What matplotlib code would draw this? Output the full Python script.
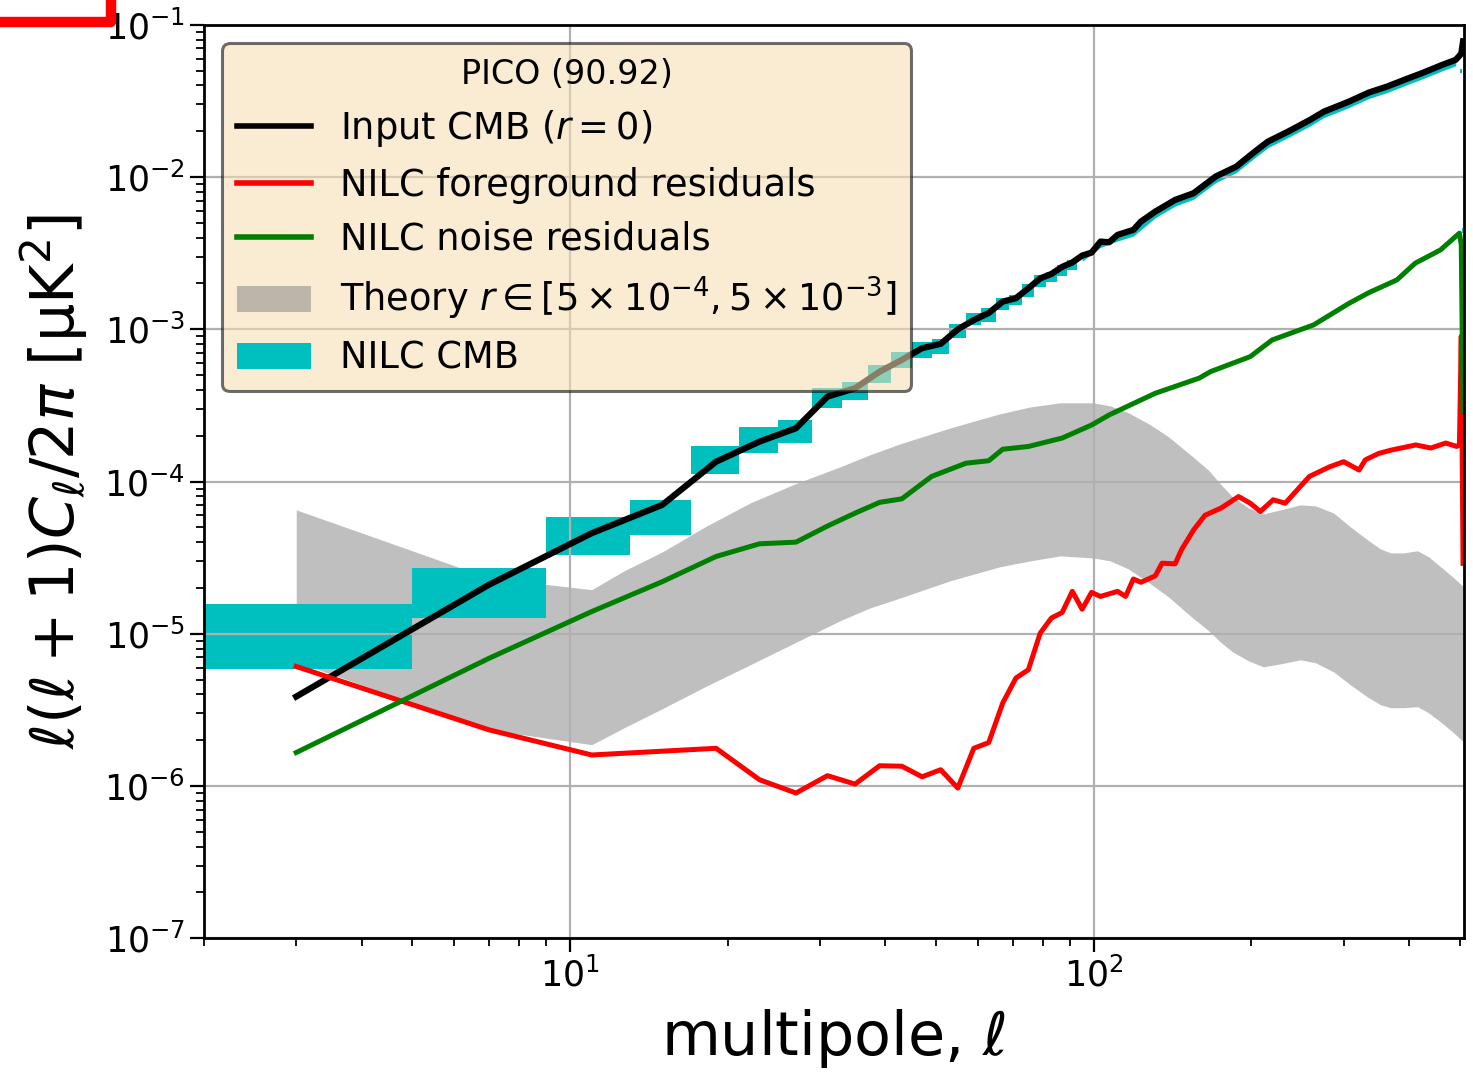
import numpy as np
import matplotlib
matplotlib.use("Agg")
import matplotlib.pyplot as plt
from matplotlib.lines import Line2D
from matplotlib.patches import Patch

# ---- data (bins of width 4 in multipole) ----
# NILC CMB boxes: bin centre, lower and upper edge
cmb_ell = [3, 7, 11, 15, 19, 23, 27, 31, 35, 39, 43, 47, 51, 55, 59, 63, 67,
           71, 75, 79, 83, 87, 91, 503, 507]
cmb_lo = [5.86e-6, 1.27e-5, 3.27e-5, 4.47e-5, 1.12e-4, 1.54e-4, 1.80e-4,
          3.03e-4, 3.44e-4, 4.47e-4, 5.56e-4, 6.46e-4, 6.87e-4, 8.74e-4,
          1.07e-3, 1.11e-3, 1.34e-3, 1.45e-3, 1.64e-3, 1.89e-3, 2.03e-3,
          2.24e-3, 2.45e-3, 4.85e-2, 4.30e-3]
cmb_hi = [1.57e-5, 2.70e-5, 5.84e-5, 7.58e-5, 1.71e-4, 2.27e-4, 2.54e-4,
          4.10e-4, 4.54e-4, 5.83e-4, 7.14e-4, 8.30e-4, 8.61e-4, 1.08e-3,
          1.28e-3, 1.38e-3, 1.60e-3, 1.68e-3, 1.99e-3, 2.26e-3, 2.39e-3,
          2.65e-3, 2.85e-3, 5.10e-2, 4.60e-3]
# thin NILC CMB boxes at high multipole (seen as a fringe under the black line)
cmb_ell_hi = [95, 103, 111, 119, 131, 143, 155, 171, 187, 203, 215, 235, 259,
              275, 307, 335, 363, 399, 423, 463, 491]
cmb_lo_hi = [2.80e-3, 3.45e-3, 3.80e-3, 4.10e-3, 5.40e-3, 6.45e-3, 7.15e-3,
             9.20e-3, 1.07e-2, 1.34e-2, 1.56e-2, 1.82e-2, 2.17e-2, 2.46e-2,
             2.86e-2, 3.28e-2, 3.59e-2, 4.08e-2, 4.40e-2, 4.99e-2, 5.39e-2]
cmb_up_hi = [3.05e-3, 3.77e-3, 4.17e-3, 4.50e-3, 5.93e-3, 7.08e-3, 7.83e-3,
             1.01e-2, 1.17e-2, 1.47e-2, 1.71e-2, 1.99e-2, 2.38e-2, 2.69e-2,
             3.13e-2, 3.59e-2, 3.93e-2, 4.46e-2, 4.81e-2, 5.46e-2, 5.89e-2]

# Input CMB (r = 0)
inp_ell = [3, 7, 11, 15, 19, 23, 27, 31, 35, 39, 43, 47, 51, 55, 59, 63, 67,
           71, 75, 79, 83, 87, 91, 95, 99, 103, 107, 111, 119, 123, 131, 143,
           155, 171, 187, 203, 215, 235, 259, 275, 307, 335, 363, 399, 423,
           463, 491, 503, 507]
inp_cl = [3.87e-6, 2.10e-5, 4.58e-5, 7.03e-5, 1.35e-4, 1.83e-4, 2.24e-4,
          3.61e-4, 4.10e-4, 5.27e-4, 6.30e-4, 7.52e-4, 8.02e-4, 1.00e-3,
          1.15e-3, 1.28e-3, 1.52e-3, 1.60e-3, 1.86e-3, 2.16e-3, 2.31e-3,
          2.57e-3, 2.75e-3, 3.05e-3, 3.19e-3, 3.77e-3, 3.73e-3, 4.17e-3,
          4.50e-3, 5.10e-3, 5.93e-3, 7.08e-3, 7.83e-3, 1.01e-2, 1.17e-2,
          1.47e-2, 1.71e-2, 1.99e-2, 2.38e-2, 2.69e-2, 3.13e-2, 3.59e-2,
          3.93e-2, 4.46e-2, 4.81e-2, 5.46e-2, 5.89e-2, 6.46e-2, 7.78e-2]

# NILC foreground residuals
fg_ell = [3, 7, 11, 19, 23, 27, 31, 35, 39, 43, 47, 51, 55, 59, 63, 67, 71,
          75, 79, 83, 87, 91, 95, 99, 103, 111, 115, 119, 123, 131, 135, 143,
          147, 155, 163, 175, 189, 199, 208, 220, 232, 258, 282, 300, 321,
          330, 350, 370, 412, 440, 470, 493, 499, 503, 507]
fg_cl = [6.1e-6, 2.34e-6, 1.60e-6, 1.77e-6, 1.10e-6, 9.0e-7, 1.17e-6, 1.03e-6,
         1.36e-6, 1.35e-6, 1.15e-6, 1.28e-6, 9.7e-7, 1.77e-6, 1.93e-6, 3.51e-6,
         5.12e-6, 5.81e-6, 1.01e-5, 1.27e-5, 1.38e-5, 1.90e-5, 1.45e-5, 1.87e-5,
         1.76e-5, 1.90e-5, 1.76e-5, 2.29e-5, 2.18e-5, 2.40e-5, 2.91e-5, 2.88e-5,
         3.56e-5, 4.8e-5, 6.0e-5, 6.7e-5, 7.97e-5, 7.2e-5, 6.36e-5, 7.59e-5,
         7.21e-5, 1.08e-4, 1.25e-4, 1.35e-4, 1.19e-4, 1.39e-4, 1.53e-4,
         1.61e-4, 1.74e-4, 1.66e-4, 1.79e-4, 1.70e-4, 1.75e-4, 9.0e-4, 2.9e-5]

# NILC noise residuals
nz_ell = [3, 7, 11, 15, 19, 23, 27, 31, 35, 39, 43, 49, 57, 63, 67, 75, 87,
          99, 107, 131, 159, 167, 199, 219, 263, 307, 335, 379, 411, 459, 499,
          503, 507]
nz_cl = [1.66e-6, 6.9e-6, 1.40e-5, 2.20e-5, 3.22e-5, 3.90e-5, 4.0e-5, 5.1e-5,
         6.2e-5, 7.3e-5, 7.7e-5, 1.08e-4, 1.32e-4, 1.37e-4, 1.63e-4, 1.70e-4,
         1.93e-4, 2.35e-4, 2.74e-4, 3.80e-4, 4.78e-4, 5.27e-4, 6.62e-4,
         8.51e-4, 1.07e-3, 1.48e-3, 1.74e-3, 2.11e-3, 2.72e-3, 3.32e-3,
         4.28e-3, 3.6e-3, 2.9e-4]

# theory band r in [5e-4, 5e-3]
th_ell = [3, 7, 11, 12.7, 15, 18.1, 22.1, 26.9, 32.8, 37.4, 42.7, 53.2, 66.3,
          75.6, 86.3, 99.8, 107.5, 116.4, 128.2, 138.8, 152.9, 165.5, 174.4,
          183.9, 197.3, 210.8, 227.2, 248, 265, 286.8, 309, 333.1, 352.7,
          368.6, 390.2, 415, 435.5, 459.2, 484.1, 507.9]
th_up = [6.52e-5, 2.33e-5, 1.95e-5, 2.60e-5, 3.45e-5, 5.04e-5, 7.25e-5,
         9.66e-5, 1.25e-4, 1.50e-4, 1.77e-4, 2.25e-4, 2.79e-4, 3.09e-4,
         3.29e-4, 3.29e-4, 3.14e-4, 2.83e-4, 2.36e-4, 1.97e-4, 1.50e-4,
         1.19e-4, 9.66e-5, 7.94e-5, 6.72e-5, 6.13e-5, 6.52e-5, 7.03e-5,
         6.92e-5, 6.22e-5, 5.04e-5, 4.14e-5, 3.61e-5, 3.40e-5, 3.40e-5,
         3.51e-5, 3.21e-5, 2.76e-5, 2.37e-5, 2.04e-5]
th_lo = [6.55e-6, 2.34e-6, 1.87e-6, 2.42e-6, 3.22e-6, 4.49e-6, 6.27e-6,
         8.74e-6, 1.22e-5, 1.48e-5, 1.72e-5, 2.23e-5, 2.76e-5, 3.01e-5,
         3.25e-5, 3.15e-5, 3.01e-5, 2.67e-5, 2.13e-5, 1.75e-5, 1.31e-5,
         1.05e-5, 8.85e-6, 7.62e-6, 6.65e-6, 6.07e-6, 6.35e-6, 6.75e-6,
         6.45e-6, 5.63e-6, 4.62e-6, 3.85e-6, 3.42e-6, 3.27e-6, 3.27e-6,
         3.32e-6, 3.03e-6, 2.64e-6, 2.27e-6, 1.95e-6]

# ---- figure ----
fig = plt.figure(figsize=(14.73, 10.74), dpi=100)
ax = fig.add_axes([204 / 1473, 1 - 938.3 / 1074, 1259.5 / 1473, 913.5 / 1074])
ax.set_xscale("log")
ax.set_yscale("log")

ax.fill_between(th_ell, th_lo, th_up, color="gray", alpha=0.5, lw=0)

lo = np.array(cmb_lo)
hi = np.array(cmb_hi)
ax.bar(cmb_ell, hi - lo, bottom=lo, width=4, color="c", lw=0)
ax.fill_between(cmb_ell_hi, cmb_lo_hi, cmb_up_hi, color="c", lw=0)

ax.plot(inp_ell, inp_cl, color="k", lw=4.5)
ax.plot(fg_ell, fg_cl, color="r", lw=3.6)
ax.plot(nz_ell, nz_cl, color="g", lw=3.6)

ax.set_xlim(2, 508)
ax.set_ylim(1e-7, 1e-1)
ax.grid(True, which="major", color="#b0b0b0", lw=1.6)

ax.tick_params(which="major", length=10, width=1.6, labelsize=25)
ax.tick_params(which="minor", length=5.5, width=1.3)
for s in ax.spines.values():
    s.set_linewidth(2)

ax.set_xlabel(r"multipole, $\ell$", fontsize=43.5, labelpad=10)
ax.set_ylabel(r"$\ell(\ell+1)C_\ell/2\pi$ [μK$^2$]", fontsize=43.5, labelpad=10)

handles = [Line2D([], [], color="k", lw=4),
           Line2D([], [], color="r", lw=4),
           Line2D([], [], color="g", lw=4),
           Patch(facecolor="gray", alpha=0.5, lw=0),
           Patch(facecolor="c", lw=0)]
labels = [r"Input CMB ($r=0$)", "NILC foreground residuals",
          "NILC noise residuals",
          r"Theory $r\in[5\times10^{-4},5\times10^{-3}]$", "NILC CMB"]
leg = ax.legend(handles, labels, loc="upper left", title="PICO (90.92)",
                fontsize=26.5, title_fontsize=24, facecolor="wheat",
                edgecolor="k", framealpha=0.57, labelspacing=0.47)
leg.get_frame().set_linewidth(2.2)

# stray red mark in the top left corner of the original
fig.add_artist(Line2D([0, 111 / 1473, 111 / 1473],
                      [1 - 22 / 1074, 1 - 22 / 1074, 1],
                      transform=fig.transFigure, color="r", lw=7.5,
                      solid_joinstyle="round", zorder=10))

fig.savefig("out.png", dpi=100)
